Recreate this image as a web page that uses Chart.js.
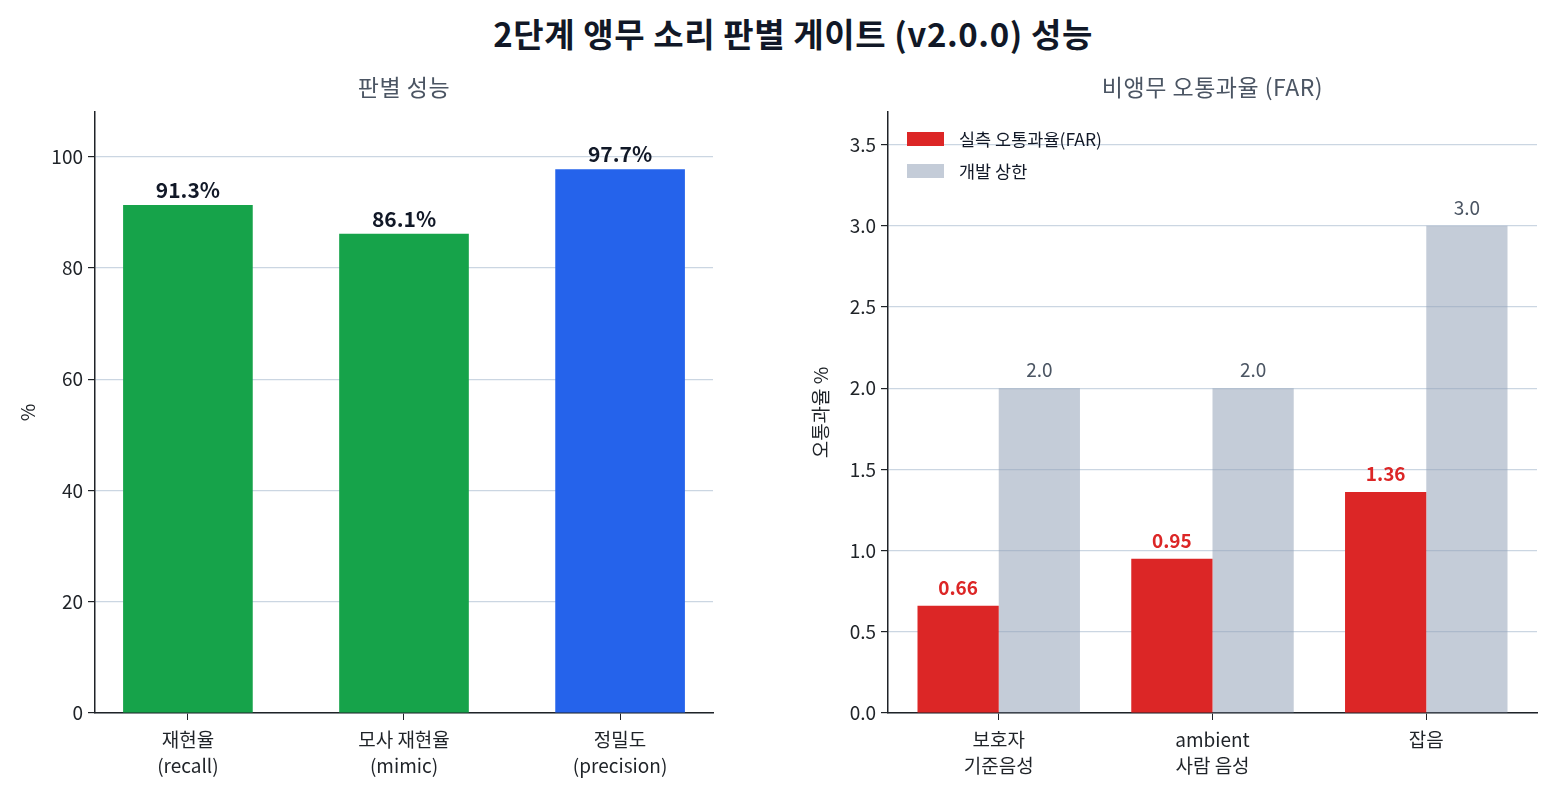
<!DOCTYPE html>
<html><head><meta charset="utf-8">
<script src="https://cdn.jsdelivr.net/npm/chart.js@4.4.1/dist/chart.umd.min.js"></script>
<style>
html,body{margin:0;padding:0;background:#fff;width:1552px;height:795px;overflow:hidden;font-family:"Noto Sans CJK KR","Noto Sans",sans-serif;}
#title{position:absolute;left:17px;top:11px;width:1552px;text-align:center;font-weight:700;font-size:33px;letter-spacing:0.6px;color:#111827;line-height:44px;}
.box{position:absolute;top:60px;height:735px;}
#b1{left:0;width:760px;}
#b2{left:793px;width:759px;}
</style></head><body>
<div id="title">2단계 앵무 소리 판별 게이트 (v2.0.0) 성능</div>
<div class="box" id="b1"><canvas id="c1"></canvas></div>
<div class="box" id="b2"><canvas id="c2"></canvas></div>
<script>
const perfCategories = [["재현율","(recall)"],["모사 재현율","(mimic)"],["정밀도","(precision)"]];
const perfValues = [91.3, 86.1, 97.7];
const perfColors = ["#16a34a","#16a34a","#2563eb"];
const perfTicks = [0,20,40,60,80,100];

const farCategories = [["보호자","기준음성"],["ambient","사람 음성"],["잡음"]];
const farMeasured = [0.66, 0.95, 1.36];
const farLimit = [2.0, 2.0, 3.0];
const farTicks = [0,0.5,1.0,1.5,2.0,2.5,3.0,3.5];

const FONT = '"Noto Sans CJK KR","Noto Sans",sans-serif';
const AX = '#1f2328';
const GRID = '#cbd6e2';

const toPoints = vals => vals.map((v,i)=>({x:i, y:v}));

const labelPlugin = {
  id:'barLabels',
  afterDatasetsDraw(chart){
    const ctx = chart.ctx;
    chart.data.datasets.forEach((ds,i)=>{
      const cfg = ds.valueLabel; if(!cfg) return;
      const meta = chart.getDatasetMeta(i);
      meta.data.forEach((el,j)=>{
        ctx.save();
        ctx.font = cfg.font; ctx.fillStyle = cfg.color;
        ctx.textAlign='center'; ctx.textBaseline='alphabetic';
        ctx.fillText(cfg.fmt(ds.data[j].y), el.x, el.y - cfg.gap);
        ctx.restore();
      });
    });
  }
};

const subTitlePlugin = {
  id:'subTitle',
  afterDraw(chart){
    const t = chart.options.plugins.subTitle; if(!t || !t.text) return;
    const ctx = chart.ctx, a = chart.chartArea;
    ctx.save();
    ctx.font = '23px '+FONT; ctx.fillStyle = '#4b5563';
    if ('letterSpacing' in ctx) ctx.letterSpacing = '0.5px';
    ctx.textAlign='center'; ctx.textBaseline='middle';
    ctx.fillText(t.text, (a.left+a.right)/2, 27);
    ctx.restore();
  }
};

const legendPlugin = {
  id:'innerLegend',
  afterDraw(chart){
    if(!chart.options.plugins.innerLegend) return;
    const ctx = chart.ctx, a = chart.chartArea;
    let y = a.top + 27;
    chart.data.datasets.forEach(ds=>{
      ctx.save();
      ctx.fillStyle = ds.backgroundColor;
      ctx.fillRect(a.left+19, y-7, 37, 14);
      ctx.fillStyle = '#111827';
      ctx.font = '17.5px '+FONT;
      ctx.textBaseline='middle';
      ctx.fillText(ds.label, a.left+71, y);
      ctx.restore();
      y += 32;
    });
  }
};

function yScale(max, ticks, fmt, title){
  return {
    min:0, max:max,
    afterBuildTicks(s){ s.ticks = ticks.map(v=>({value:v})); },
    afterFit(s){ s.width = 95; },
    ticks:{color:AX, font:{family:FONT,size:19}, padding:5, callback:fmt},
    grid:{color:GRID, lineWidth:1.2, tickColor:AX, tickLength:7, drawOnChartArea:true},
    border:{display:true, color:AX, width:1.5},
    title:{display:true, text:title, color:AX, font:{family:FONT,size:19}, padding:{top:16,bottom:0}}
  };
}
function xScale(cats, lo, hi){
  return {
    type:'linear', min:lo, max:hi, offset:false,
    afterBuildTicks(s){ s.ticks = cats.map((c,i)=>({value:i})); },
    afterFit(s){ s.height = 82; },
    ticks:{color:AX, font:{family:FONT,size:19,lineHeight:1.37}, padding:7, autoSkip:false, maxRotation:0,
      callback:v=>cats[v]},
    grid:{display:true, drawOnChartArea:false, offset:false, tickColor:AX, tickLength:7},
    border:{display:true, color:AX, width:1.5}
  };
}

new Chart(document.getElementById('c1'),{
  type:'bar',
  data:{datasets:[{
    data:toPoints(perfValues), backgroundColor:perfColors,
    barPercentage:0.6, categoryPercentage:1,
    valueLabel:{font:'bold 21px '+FONT, color:'#111827', gap:7, fmt:v=>v.toFixed(1)+'%'}
  }]},
  options:{
    responsive:true, maintainAspectRatio:false, animation:false,
    layout:{padding:{left:0,right:47,top:52,bottom:0}},
    plugins:{legend:{display:false}, tooltip:{enabled:false}, title:{display:false},
      subTitle:{text:'판별 성능'}},
    scales:{x:xScale(perfCategories, -0.43, 2.43), y:yScale(108, perfTicks, v=>v, '%')}
  },
  plugins:[labelPlugin, subTitlePlugin]
});

new Chart(document.getElementById('c2'),{
  type:'bar',
  data:{datasets:[
    {label:'실측 오통과율(FAR)', data:toPoints(farMeasured), backgroundColor:'#dc2626',
     valueLabel:{font:'bold 19px '+FONT, color:'#dc2626', gap:11, fmt:v=>v.toFixed(2)}},
    {label:'개발 상한', data:toPoints(farLimit), backgroundColor:'rgba(148,163,184,0.55)',
     valueLabel:{font:'19px '+FONT, color:'#4b5563', gap:11, fmt:v=>v.toFixed(1)}}
  ]},
  options:{
    responsive:true, maintainAspectRatio:false, animation:false,
    datasets:{bar:{barPercentage:1, categoryPercentage:0.76}},
    layout:{padding:{left:0,right:15,top:52,bottom:0}},
    plugins:{legend:{display:false}, tooltip:{enabled:false}, title:{display:false}, innerLegend:true,
      subTitle:{text:'비앵무 오통과율 (FAR)'}},
    scales:{x:xScale(farCategories, -0.518, 2.518), y:yScale(3.7, farTicks, v=>Number(v).toFixed(1), '오통과율 %')}
  },
  plugins:[labelPlugin, legendPlugin, subTitlePlugin]
});
</script>
</body></html>
